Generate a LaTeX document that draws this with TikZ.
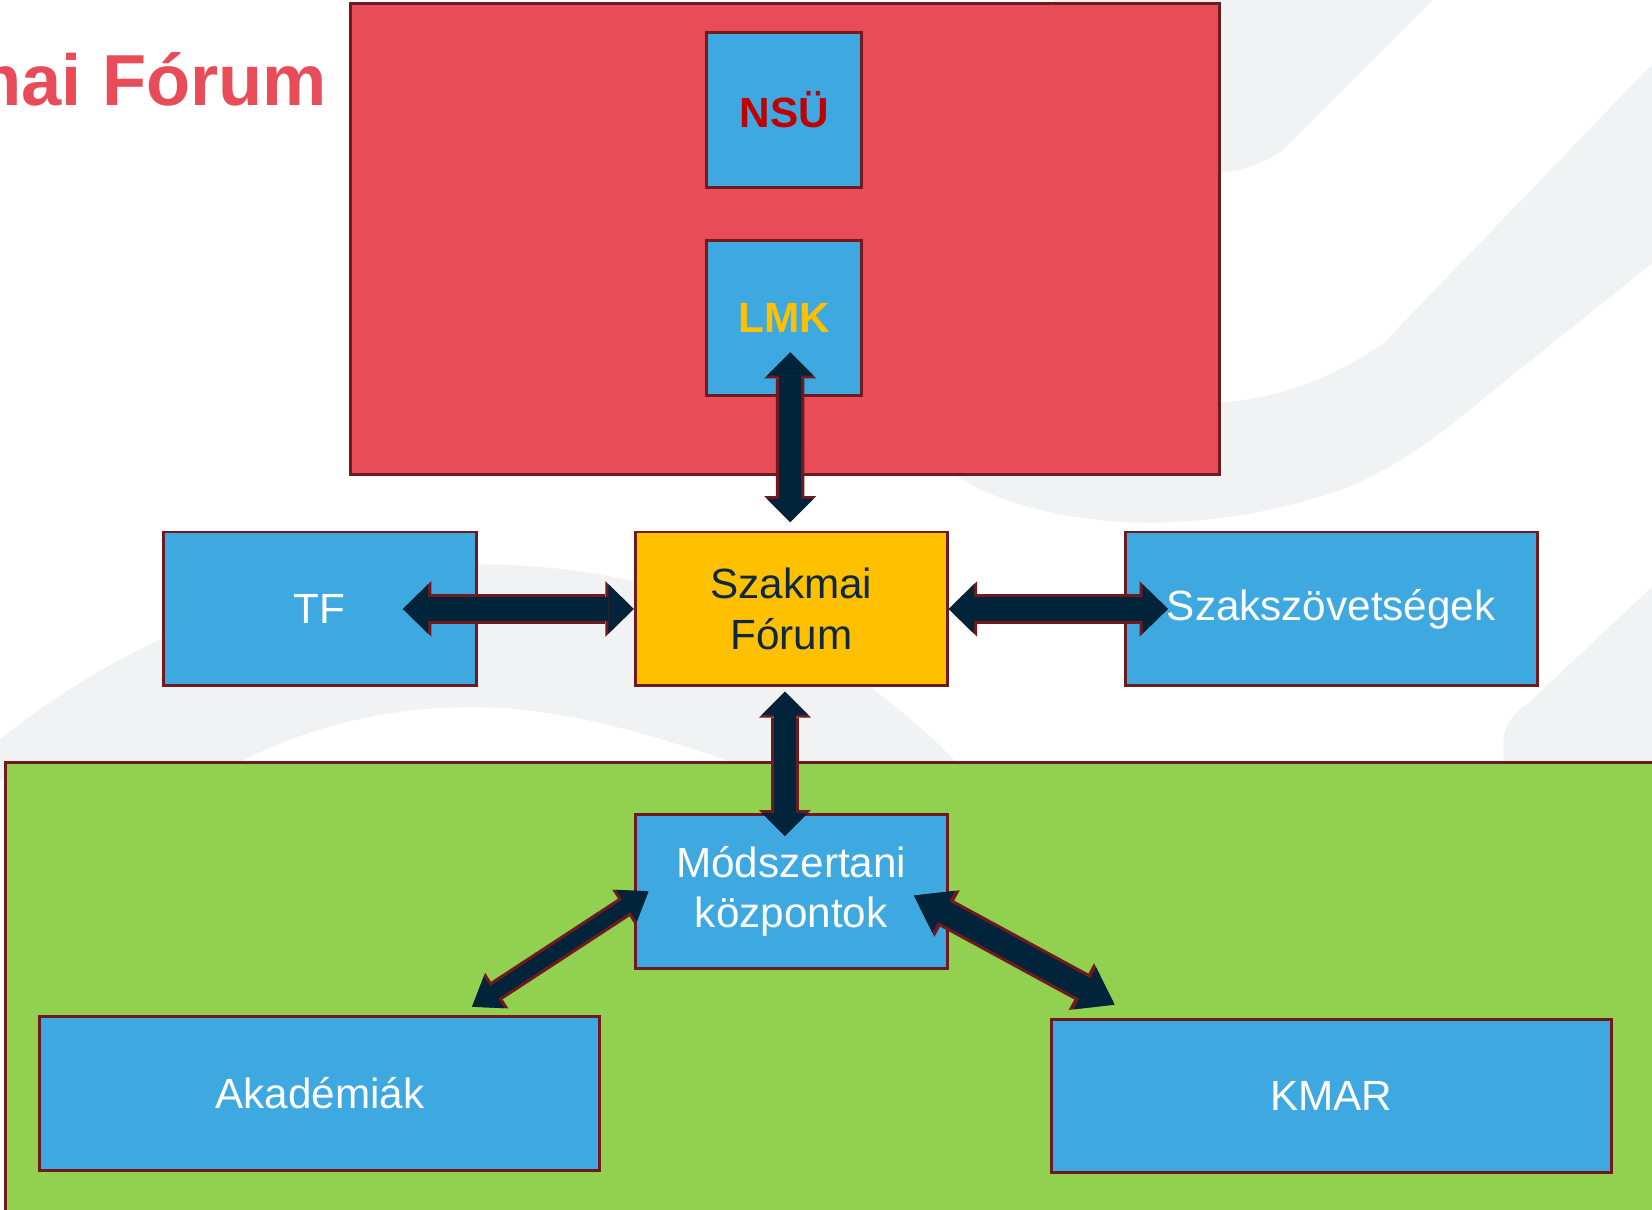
\documentclass[tikz,border=0pt]{standalone}
\usepackage{fontspec}
\setmainfont{Liberation Sans}
\usetikzlibrary{arrows.meta}
\definecolor{panelred}{RGB}{232,76,88}
\definecolor{panelgreen}{RGB}{146,208,80}
\definecolor{boxblue}{RGB}{62,168,224}
\definecolor{forumyellow}{RGB}{255,192,0}
\definecolor{arrownavy}{RGB}{2,36,58}
\definecolor{edgered}{RGB}{110,26,30}
\definecolor{navytext}{RGB}{14,40,65}
\definecolor{nsured}{RGB}{192,0,0}
\definecolor{wmgray}{RGB}{241,242,244}
\newcommand*\boxfont{\fontsize{11.4pt}{13.6pt}\selectfont}
\newcommand*\titlefont{\fontsize{19.5pt}{23pt}\selectfont\bfseries}

\begin{document}
\begin{tikzpicture}[x=0.01cm, y=-0.01cm,
		panel/.style={draw=edgered, line width=0.8pt, inner sep=0pt},
		box/.style={panel, fill=boxblue, text=white, font=\boxfont, align=center, minimum height=1.46cm},
		blockarrow/.style n args={3}{draw=arrownavy, line width=#1,
			{Triangle[length=#2,width=#3,line width=0pt]}-{Triangle[length=#2,width=#3,line width=0pt]},
			preaction={draw=edgered, line width=#1+0.6mm,
				{Triangle[length=#2,width=#3,scale=1.12,line width=0pt]}-{Triangle[length=#2,width=#3,scale=1.12,line width=0pt]}}}]
		\useasboundingbox (0,0) rectangle (1568,1148);
		\clip (0,0) rectangle (1568,1148);
		\fill[white] (0,0) rectangle (1568,1148);

		% Watermark swooshes in the background
		\fill[wmgray] (0,702) .. controls (150,580) and (330,536) .. (460,536)
			.. controls (640,536) and (800,610) .. (908,724) -- (696,724)
			.. controls (600,690) and (520,671) .. (448,671)
			.. controls (350,671) and (260,700) .. (200,740) -- (0,740) -- cycle;
		\fill[wmgray] (1000,0) -- (1360,0) -- (1218,142) .. controls (1195,158) and (1175,163) .. (1158,163) -- (1000,163) -- cycle;
		\fill[wmgray] (1000,300) -- (1158,382) .. controls (1220,378) and (1270,355) .. (1313,326)
			-- (1568,61) -- (1568,250) -- (1408,378)
			.. controls (1360,420) and (1300,460) .. (1250,472)
			.. controls (1200,488) and (1140,496) .. (1091,496)
			.. controls (1020,496) and (950,480) .. (905,450) -- cycle;
		\fill[wmgray] (1427,724) -- (1427,705) .. controls (1427,690) and (1435,678) .. (1450,668)
			-- (1568,557) -- (1568,724) -- cycle;

		% Panels
		\node[panel, fill=panelred, minimum width=8.24cm, minimum height=4.47cm] (federation) at (745,226.5) {};
		\node[panel, fill=panelgreen, minimum width=15.74cm, minimum height=4.36cm] (regional) at (793,942) {};
		\node[anchor=base east, inner sep=0pt, text=panelred, font=\titlefont] (title) at (311,100) {Szakmai Fórum};

		% Boxes
		\node[box, minimum width=1.47cm, minimum height=1.47cm, text=nsured, font=\boxfont\bfseries] (nsu) at (744.5,104.5) {NSÜ};
		\node[box, minimum width=1.47cm, minimum height=1.47cm, text=forumyellow, font=\boxfont\bfseries] (lmk) at (744.5,301.5) {LMK};
		\node[box, fill=forumyellow, text=navytext, minimum width=2.96cm] (forum) at (751,578) {Szakmai\\Fórum};
		\node[box, minimum width=2.97cm] (tf) at (303.5,578) {TF};
		\node[box, minimum width=3.91cm] (szsz) at (1263.5,578) {Szakszövetségek};
		\node[box, minimum width=2.96cm] (modsz) at (751,846) {Módszertani\\központok};
		\node[box, minimum width=5.31cm] (akad) at (303.5,1038) {Akadémiák};
		\node[box, minimum width=5.31cm, minimum height=1.45cm] (kmar) at (1263.5,1040.5) {KMAR};

		% Arrows between the boxes
		\draw[blockarrow={2.1mm}{2.2mm}{4.4mm}] ([xshift=0.055cm,yshift=0.42cm]lmk.south) -- ([xshift=-0.01cm,yshift=0.08cm]forum.north);
		\draw[blockarrow={2.2mm}{2.4mm}{4.7mm}] ([xshift=-0.71cm]tf.east) -- (forum.west);
		\draw[blockarrow={2.2mm}{2.4mm}{4.7mm}] (forum.east) -- ([xshift=0.42cm]szsz.west);
		\draw[blockarrow={2.1mm}{2.2mm}{4.4mm}] ([xshift=-0.06cm,yshift=-0.04cm]forum.south) -- ([xshift=-0.06cm,yshift=-0.22cm]modsz.north);
		\draw[blockarrow={1.4mm}{2.5mm}{3.6mm}] ([xshift=0.14cm]modsz.west) -- ([xshift=1.445cm,yshift=0.08cm]akad.north);
		\draw[blockarrow={2.2mm}{3.2mm}{4.5mm}] ([xshift=-0.33cm,yshift=-0.04cm]modsz.east) -- ([xshift=-2.055cm,yshift=0.13cm]kmar.north);
	\end{tikzpicture}
\end{document}
